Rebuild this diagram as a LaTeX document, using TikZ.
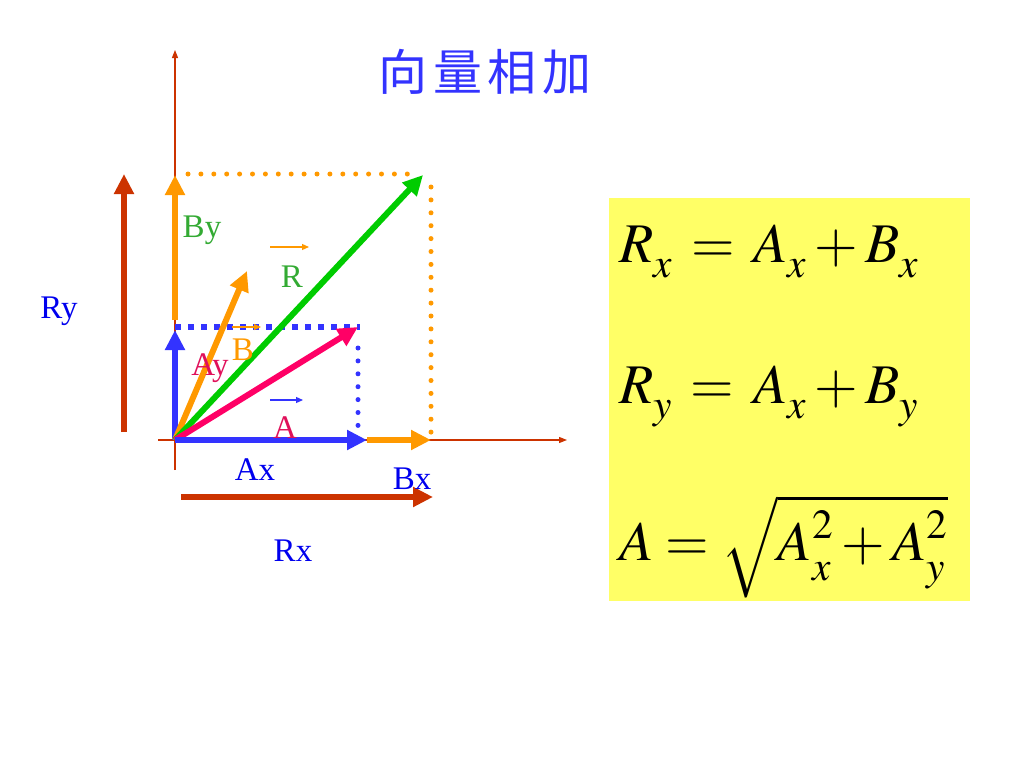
\documentclass[tikz,border=0pt]{standalone}
\usepackage{mathptmx}
\usepackage{fontspec}
\setmainfont{Liberation Serif}
\newfontfamily\cjk[LetterSpace=12]{Noto Sans CJK SC}
\usepackage{tikz}
\usetikzlibrary{arrows.meta}
\definecolor{axisred}{HTML}{CC3300}
\definecolor{vorange}{HTML}{FF9900}
\definecolor{vblue}{HTML}{3333FF}
\definecolor{vpink}{HTML}{FF0066}
\definecolor{vgreen}{HTML}{00CC00}
\definecolor{lblue}{HTML}{0000EE}
\definecolor{lgreen}{HTML}{33AA33}
\definecolor{lpink}{HTML}{E0105A}
\definecolor{eqbox}{HTML}{FFFF66}
\newcommand{\lsub}[1]{_{\raisebox{-7pt}{$\scriptstyle #1$}}}
\newcommand{\lsup}[1]{^{\raisebox{5pt}{$\scriptstyle #1$}}}

\begin{document}
\begin{tikzpicture}[x=1pt, y=-1pt]
            \tikzstyle{every node}+=[inner sep=0pt]
            \tikzstyle{axis}=[axisred, line width=1.2pt, -{Triangle[length=8pt,width=6pt]}]
            \tikzstyle{vec}=[line width=6pt, -{Triangle[length=20pt,width=19pt]}]
            \tikzstyle{tiny}=[line width=1.2pt, -{Triangle[length=7pt,width=6pt]}]
            \tikzstyle{dots}=[vorange, line width=5pt, line cap=round, dash pattern=on 0pt off 12.9pt]
            \tikzstyle{bdots}=[vblue, line width=5pt, line cap=round, dash pattern=on 0pt off 12.9pt]
            \tikzstyle{bsquares}=[vblue, line width=6pt, dash pattern=on 6pt off 7pt]
            \tikzstyle{lbl}=[font=\fontsize{33}{34}\selectfont]
            \tikzstyle{eq}=[anchor=base west, font=\fontsize{56}{60}\selectfont]
            \useasboundingbox (0,0) rectangle (1024,768);
            % points
            \coordinate (O) at (175,440);
            \coordinate (Xlo) at (158,440);
            \coordinate (Xhi) at (567,440);
            \coordinate (Ylo) at (175,470);
            \coordinate (Yhi) at (175,50);
            \coordinate (Ax) at (367,440);
            \coordinate (Bx) at (431,440);
            \coordinate (Ay) at (175,330);
            \coordinate (Bylo) at (175,320);
            \coordinate (By) at (175,175);
            \coordinate (A) at (358,327);
            \coordinate (B) at (247,271);
            \coordinate (R) at (423,175);
            \coordinate (Rylo) at (124,432);
            \coordinate (Ry) at (124,174);
            \coordinate (Rxlo) at (181,497);
            \coordinate (Rx) at (433,497);
            % axes
            \draw [axis] (Xlo) -- (Xhi);
            \draw [axis] (Ylo) -- (Yhi);
            % projections
            \draw [dots] (188,174) -- (410,174);
            \draw [dots] (431,187) -- (431,434);
            \draw [bsquares] (175,327) -- (360,327);
            \draw [bdots] (358,348) -- (358,428);
            % components
            \draw [vec, vblue] (O) -- (Ay);
            \draw [vec, vorange] (Bylo) -- (By);
            \draw [vec, vorange] (Ax) -- (Bx);
            \draw [vec, axisred] (Rylo) -- (Ry);
            \draw [vec, axisred] (Rxlo) -- (Rx);
            % vectors
            \draw [vec, vorange] (O) -- (B);
            \draw [vec, vgreen] (O) -- (R);
            \draw [vec, vpink] (O) -- (A);
            \draw [vec, vblue] (O) -- (Ax);
            % vector marks
            \draw [tiny, vorange] (270,247) -- (309,247);
            \draw [tiny, vorange] (232,327) -- (261,327);
            \draw [tiny, vblue] (270,400) -- (303,400);
            % labels
            \node [lbl, text=lgreen] (lBy) at (202,230) {By};
            \node [lbl, text=lgreen] (lR) at (292,277) {R};
            \node [lbl, text=vorange] (lB) at (243,350) {B};
            \node [lbl, text=lpink] (lAy) at (210,368) {Ay};
            \node [lbl, text=lpink] (lA) at (285,428) {A};
            \node [lbl, text=lblue] (lAx) at (255,470) {Ax};
            \node [lbl, text=lblue] (lBx) at (412,479) {Bx};
            \node [lbl, text=lblue] (lRx) at (293,551) {Rx};
            \node [lbl, text=lblue] (lRy) at (59,311) {Ry};
            \node [text=vblue, font=\cjk\fontsize{49}{52}\selectfont] (title) at (485,72) {向量相加};
            % equations
            \fill [eqbox] (609,198) rectangle (970,601);
            \node [eq] (eqRx) at (619,262) {$R\lsub{x} \mkern2mu=\mkern2mu A\lsub{x} + B\lsub{x}$};
            \node [eq] (eqRy) at (619,403) {$R\lsub{y} \mkern2mu=\mkern2mu A\lsub{x} + B\lsub{y}$};
            \node [eq] (eqA) at (619,560) {$A = \sqrt{A\lsup{2}\lsub{x} + A\lsup{2}\lsub{y}}$};
\end{tikzpicture}
\end{document}
